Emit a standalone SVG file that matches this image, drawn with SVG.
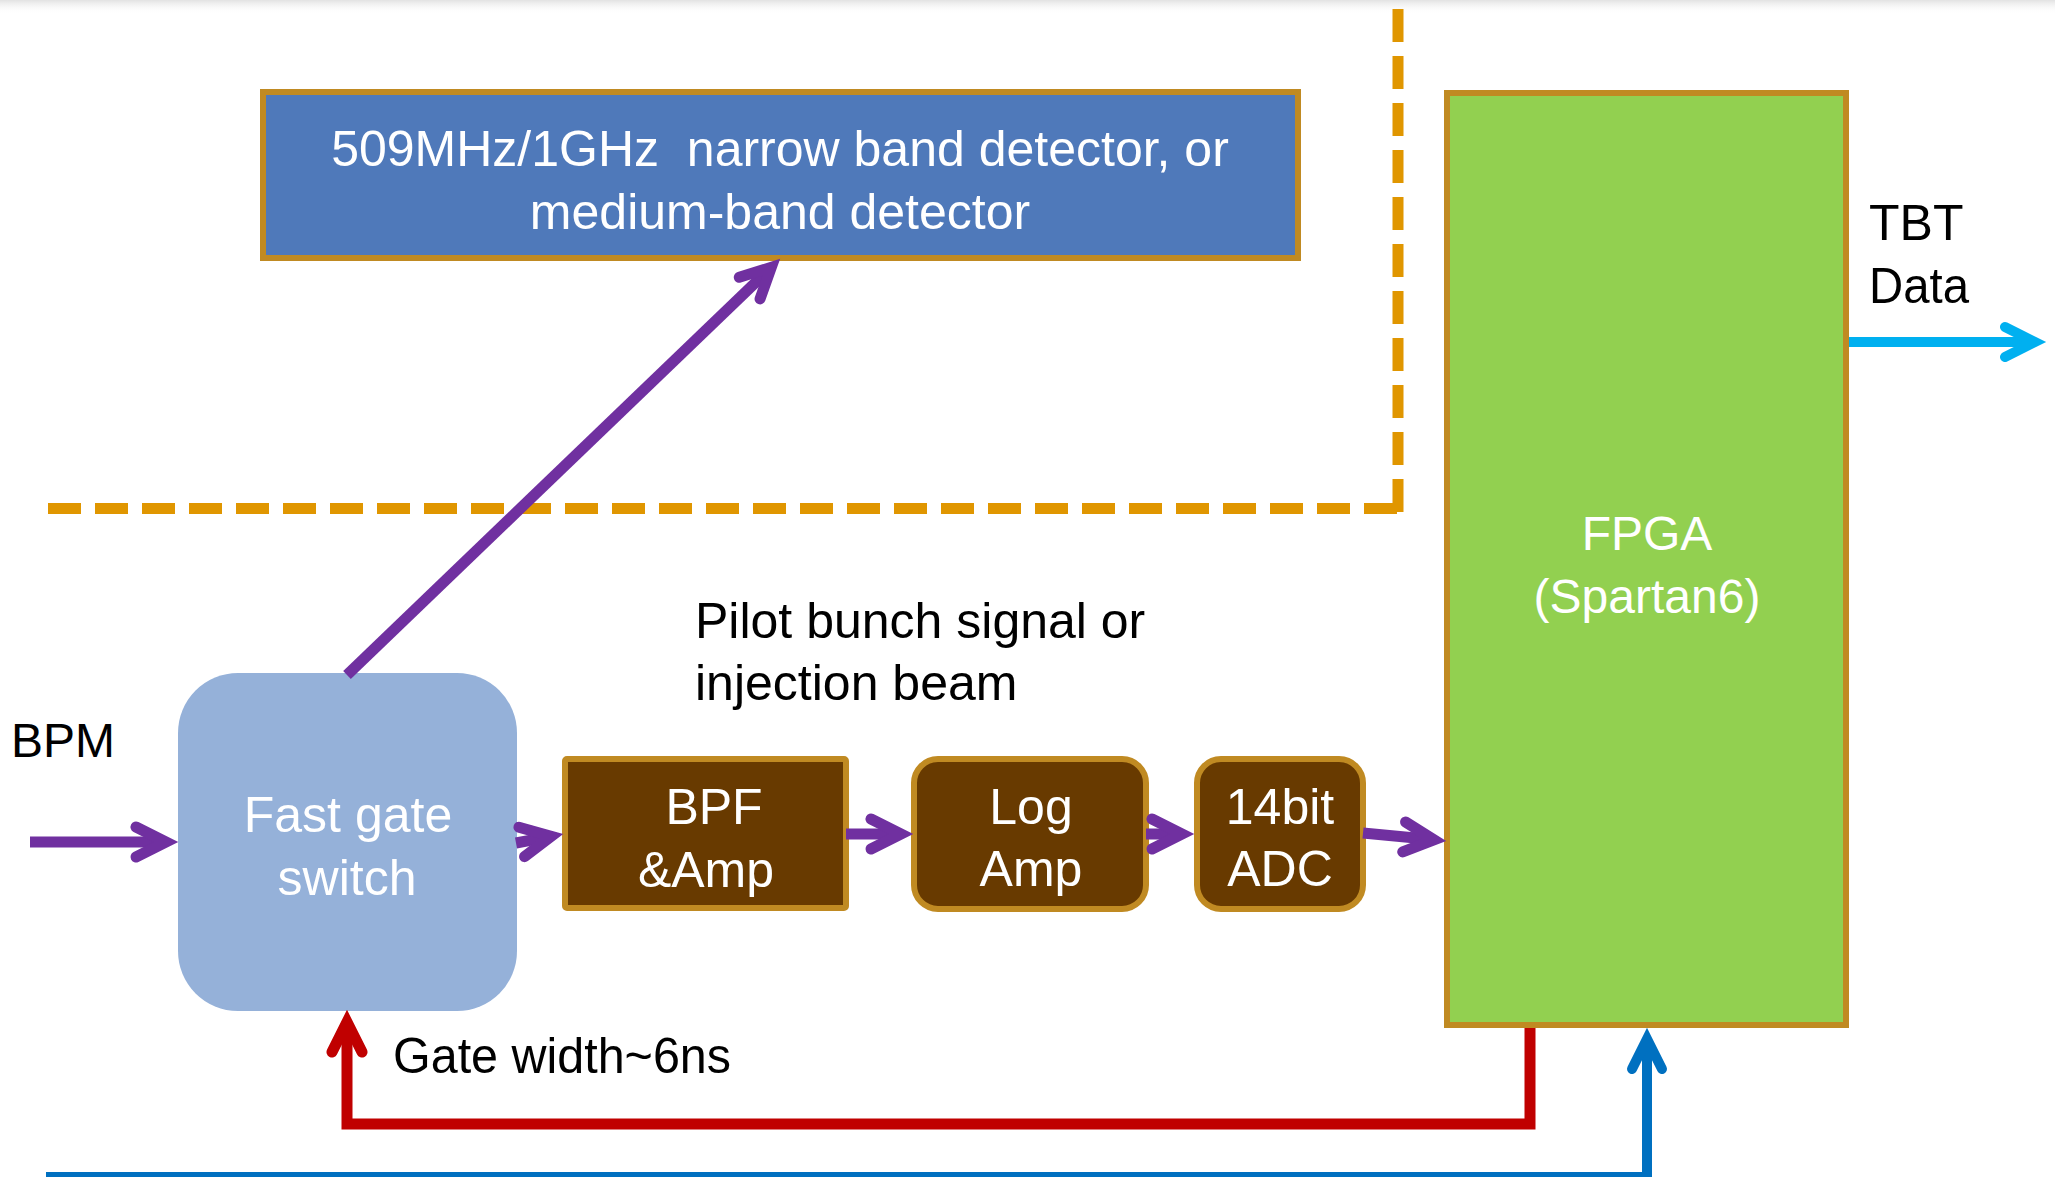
<svg xmlns="http://www.w3.org/2000/svg" width="2055" height="1177" viewBox="0 0 2055 1177">
<style>
.t{font-family:"Liberation Sans",Arial,sans-serif;font-size:50px}
.w{fill:#FFFFFF}
.k{fill:#000000}
.m{text-anchor:middle}
.gold{stroke:#C08A22;stroke-width:6}
.brown{fill:#683A00}
.ln{fill:none;stroke-linejoin:miter;stroke-linecap:butt}
.pur{stroke:#7030A0;stroke-width:11}
.red{stroke:#C00000;stroke-width:11}
.blu{stroke:#0070C0;stroke-width:10}
.cya{stroke:#00B0F0;stroke-width:10}
.dash{fill:none;stroke:#E09600;stroke-width:11;stroke-dasharray:33 14}
</style>
<defs>
<linearGradient id="topshade" x1="0" y1="0" x2="0" y2="1">
<stop offset="0" stop-color="#E2E2E2"/>
<stop offset="1" stop-color="#FFFFFF" stop-opacity="0"/>
</linearGradient>
<marker id="ahP" markerUnits="userSpaceOnUse" orient="auto" refX="0" refY="0" markerWidth="10" markerHeight="10" overflow="visible">
<path d="M-30,-15 L0,0 L-30,15" fill="none" stroke="#7030A0" stroke-width="11" stroke-linecap="round" stroke-linejoin="miter" stroke-miterlimit="10"/>
</marker>
<marker id="ahR" markerUnits="userSpaceOnUse" orient="auto" refX="0" refY="0" markerWidth="10" markerHeight="10" overflow="visible">
<path d="M-30,-15 L0,0 L-30,15" fill="none" stroke="#C00000" stroke-width="11" stroke-linecap="round" stroke-linejoin="miter" stroke-miterlimit="10"/>
</marker>
<marker id="ahB" markerUnits="userSpaceOnUse" orient="auto" refX="0" refY="0" markerWidth="10" markerHeight="10" overflow="visible">
<path d="M-30,-15 L0,0 L-30,15" fill="none" stroke="#0070C0" stroke-width="10" stroke-linecap="round" stroke-linejoin="miter" stroke-miterlimit="10"/>
</marker>
<marker id="ahC" markerUnits="userSpaceOnUse" orient="auto" refX="0" refY="0" markerWidth="10" markerHeight="10" overflow="visible">
<path d="M-30,-15 L0,0 L-30,15" fill="none" stroke="#00B0F0" stroke-width="10" stroke-linecap="round" stroke-linejoin="miter" stroke-miterlimit="10"/>
</marker>
</defs>
<rect x="0" y="0" width="2055" height="1177" fill="#FFFFFF"/>
<rect x="0" y="0" width="2055" height="14" fill="url(#topshade)"/>

<g id="boundary">
<path class="dash" d="M48,508.5 H1398"/>
<path class="dash" d="M1398,9 V514"/>
</g>

<g id="detector">
<rect x="263" y="92" width="1035" height="166" fill="#4F79BA" class="gold"/>
<text class="t w m" x="780" y="166" xml:space="preserve">509MHz/1GHz  narrow band detector, or</text>
<text class="t w m" x="780" y="229">medium-band detector</text>
</g>

<g id="fpga">
<rect x="1447" y="93" width="399" height="932" fill="#92D050" class="gold"/>
<text class="t w m" x="1647" y="550" style="font-size:48px">FPGA</text>
<text class="t w m" x="1647" y="613" style="font-size:48px">(Spartan6)</text>
</g>

<g id="switch">
<rect x="178" y="673" width="339" height="338" rx="60" ry="60" fill="#95B1D9"/>
<text class="t w m" x="348" y="832">Fast gate</text>
<text class="t w m" x="347" y="895">switch</text>
</g>

<g id="bpf">
<rect x="565" y="759" width="281" height="149" rx="2" class="brown gold"/>
<text class="t w m" x="714" y="824">BPF</text>
<text class="t w m" x="706" y="887">&amp;Amp</text>
</g>

<g id="logamp">
<rect x="914" y="759" width="232" height="150" rx="24" class="brown gold"/>
<text class="t w m" x="1031" y="824">Log</text>
<text class="t w m" x="1031" y="886">Amp</text>
</g>

<g id="adc">
<rect x="1197" y="759" width="166" height="150" rx="24" class="brown gold"/>
<text class="t w m" x="1280" y="824">14bit</text>
<text class="t w m" x="1280" y="886">ADC</text>
</g>

<g id="connectors">
<path class="ln pur" d="M30,842 H166" marker-end="url(#ahP)"/>
<path class="ln pur" d="M516,843 L551.2,836.3" marker-end="url(#ahP)"/>
<path class="ln pur" d="M846,834 H901" marker-end="url(#ahP)"/>
<path class="ln pur" d="M1146,834 H1182" marker-end="url(#ahP)"/>
<path class="ln pur" d="M1363,833 L1434,839.8" marker-end="url(#ahP)"/>
<path class="ln pur" d="M347,675 L771.3,267.3" marker-end="url(#ahP)"/>
<path class="ln red" d="M1530,1028 V1124 H347 V1022" marker-end="url(#ahR)"/>
<path class="ln blu" d="M46,1177 H1647 V1039" marker-end="url(#ahB)"/>
<path class="ln cya" d="M1849,342 H2035" marker-end="url(#ahC)"/>
</g>

<g id="labels">
<text class="t k" x="11" y="757" style="font-size:48px">BPM</text>
<text class="t k" x="695" y="638">Pilot bunch signal or</text>
<text class="t k" x="695" y="700">injection beam</text>
<text class="t k" x="393" y="1073" textLength="338" lengthAdjust="spacingAndGlyphs">Gate width~6ns</text>
<text class="t k" x="1869" y="240">TBT</text>
<text class="t k" x="1869" y="303" textLength="100" lengthAdjust="spacingAndGlyphs">Data</text>
</g>
</svg>
